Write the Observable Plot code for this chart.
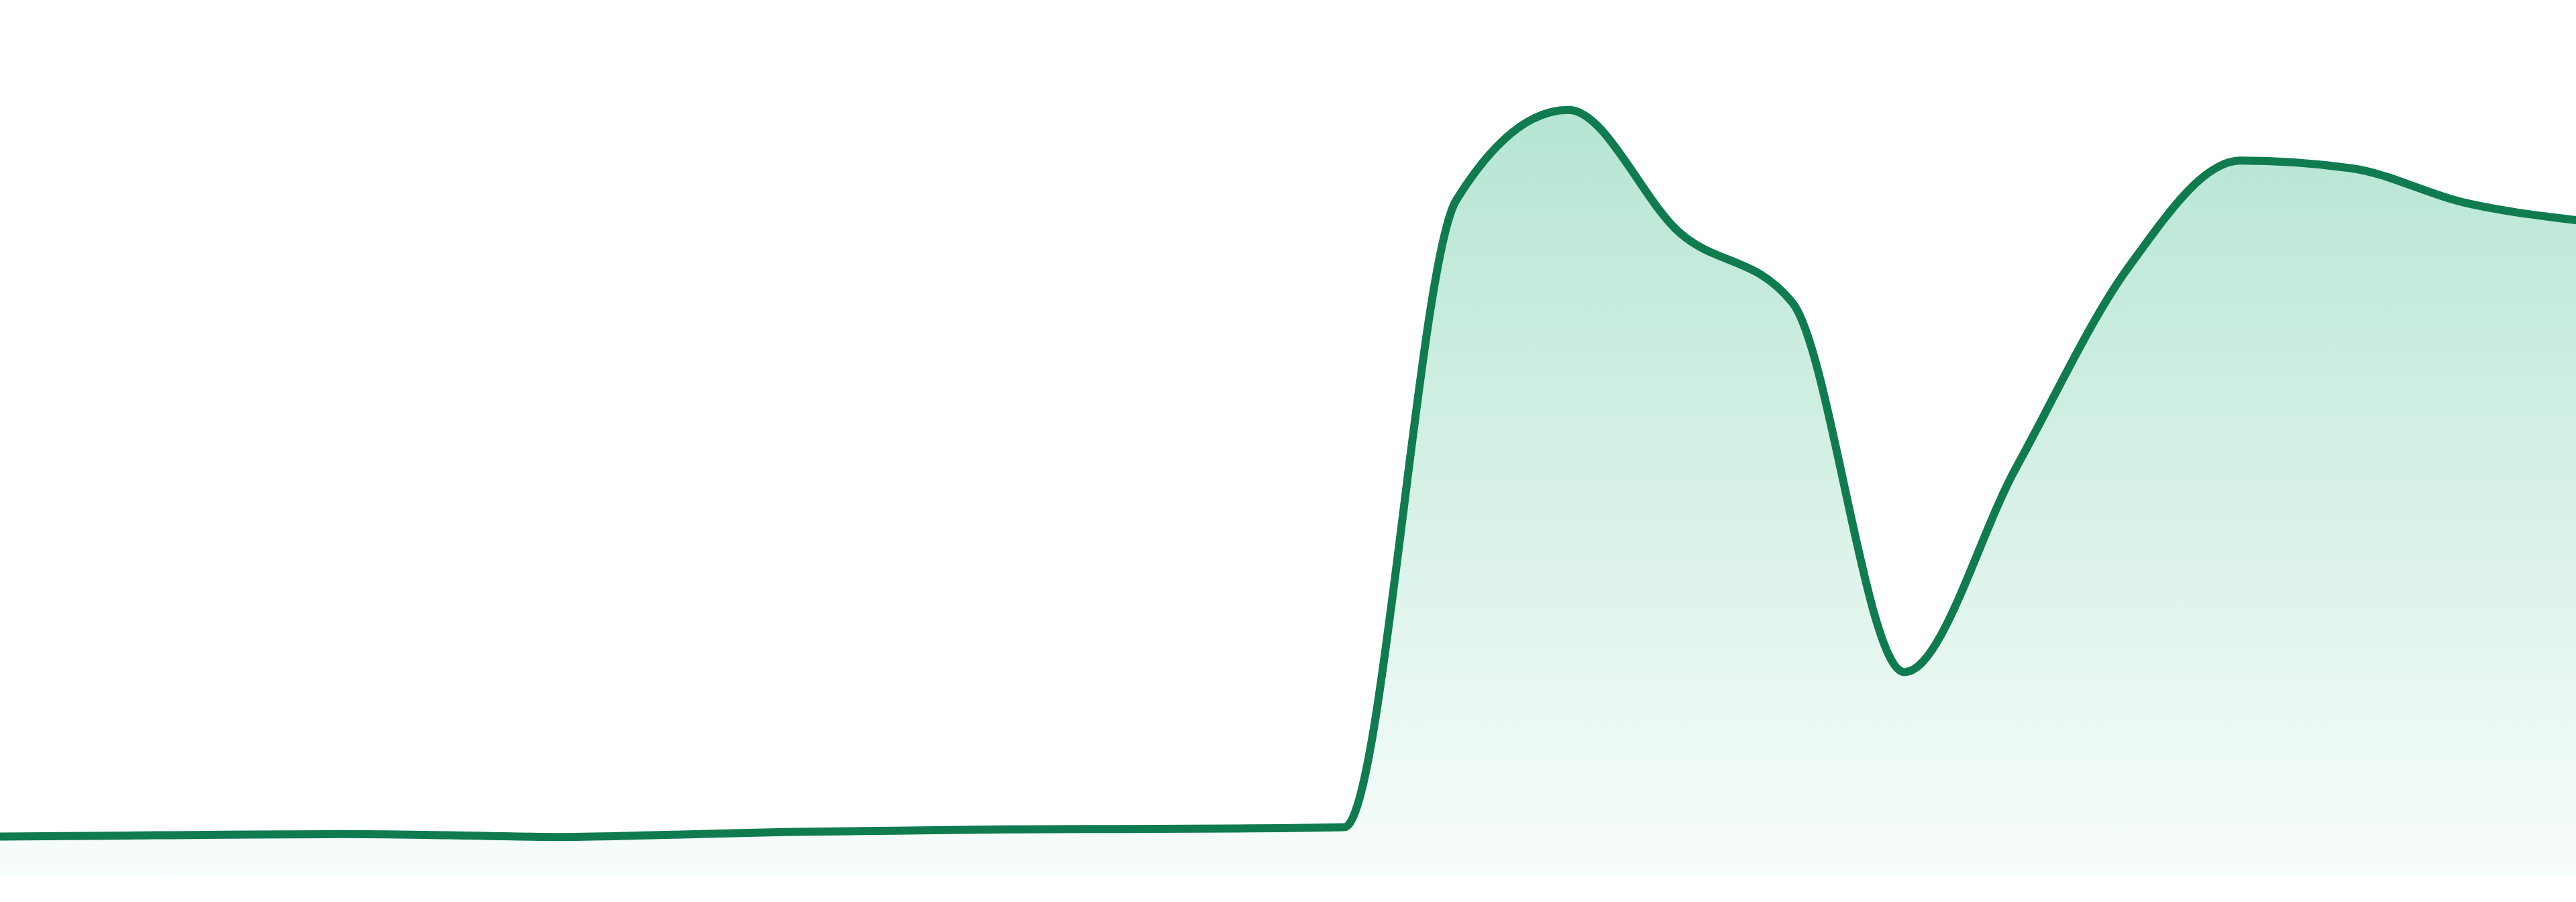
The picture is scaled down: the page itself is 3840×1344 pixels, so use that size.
<!DOCTYPE html>
<html>
<head>
<meta charset="utf-8">
<script src="https://cdn.jsdelivr.net/npm/d3@7"></script>
<script src="https://cdn.jsdelivr.net/npm/@observablehq/plot@0.6"></script>
<style>
  html, body { margin: 0; padding: 0; background: #ffffff; overflow: hidden; }
  #chart svg { display: block; }
</style>
</head>
<body>
<div id="chart"></div>
<script>
// Period index (evenly spaced observations)
const period = [0, 1, 2, 3, 4, 5, 6, 7, 8, 9, 10, 11, 12, 13, 14, 15, 16, 17, 18, 19, 20, 21, 22, 23];
// Series values (percent of plot height)
const value = [4.52, 4.62, 4.73, 4.80, 4.67, 4.47, 4.73, 5.03, 5.19, 5.34, 5.39, 5.44, 5.59,
               77.2, 87.5, 73.4, 65.5, 23.3, 46.7, 69.5, 81.7, 80.8, 76.9, 74.9];

const data = period.map((p, i) => ({period: p, value: value[i]}));

const lineColor = "#117b50";
const fillBase = "rgb(18,172,112)";

const gradient = () => {
  const defs = document.createElementNS("http://www.w3.org/2000/svg", "defs");
  defs.innerHTML = `
    <linearGradient id="areaGrad" x1="0" y1="0" x2="0" y2="1">
      <stop offset="0%" stop-color="${fillBase}" stop-opacity="0.31"/>
      <stop offset="100%" stop-color="${fillBase}" stop-opacity="0.03"/>
    </linearGradient>`;
  return defs;
};

const chart = Plot.plot({
  width: 3840,
  height: 1344,
  marginTop: 0,
  marginBottom: 39,
  marginLeft: 0,
  marginRight: 0,
  x: {domain: [0, 23], axis: null},
  y: {domain: [0, 100], axis: null},
  style: {background: "#ffffff", overflow: "visible"},
  marks: [
    gradient,
    Plot.areaY(data, {x: "period", y: "value", curve: "monotone-x", fill: "url(#areaGrad)"}),
    Plot.lineY(data, {x: "period", y: "value", curve: "monotone-x", stroke: lineColor,
      strokeWidth: 12, strokeLinejoin: "round", strokeLinecap: "round"})
  ]
});
document.getElementById("chart").append(chart);
</script>
</body>
</html>
